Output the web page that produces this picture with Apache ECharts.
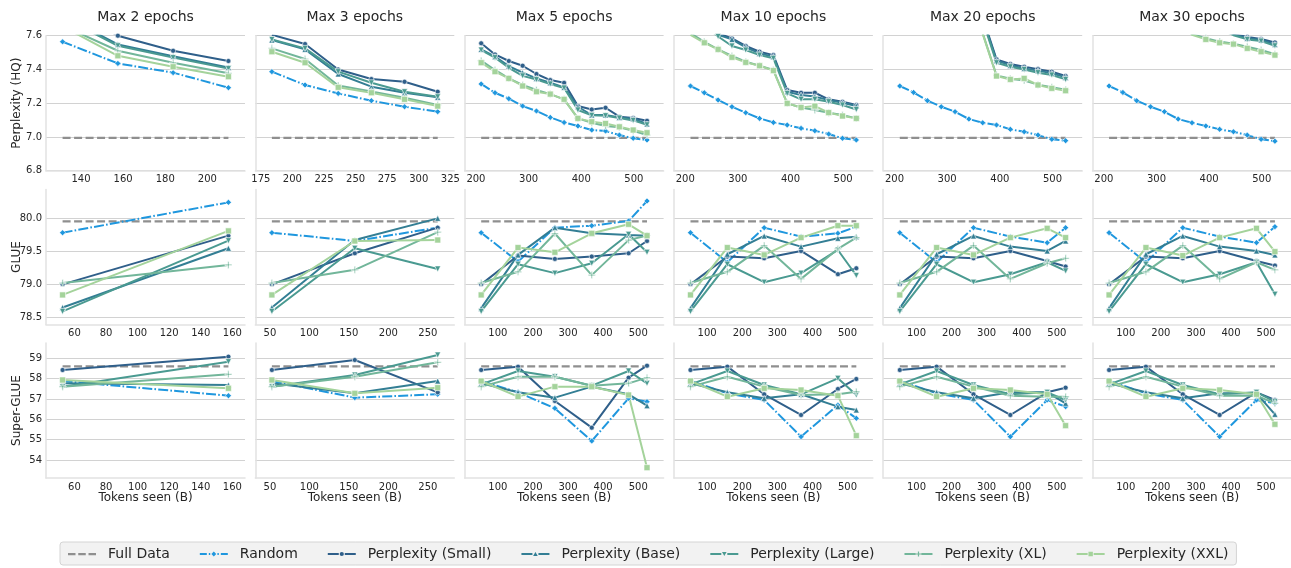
<!DOCTYPE html>
<html><head><meta charset="utf-8">
<script src="https://cdn.jsdelivr.net/npm/echarts@6/dist/echarts.min.js"></script>
<style>html,body{margin:0;padding:0;background:#fff}#c{width:1291px;height:568px}</style>
</head><body><div id="c"></div><script>
// ---------------- DATA ----------------
const titles = ['Max 2 epochs','Max 3 epochs','Max 5 epochs','Max 10 epochs','Max 20 epochs','Max 30 epochs'];
const rowNames = ['Perplexity (HQ)','GLUE','Super-GLUE'];
const xName = 'Tokens seen (B)';
const fullDataName = 'Full Data';
const seriesNames = ['Random','Perplexity (Small)','Perplexity (Base)','Perplexity (Large)','Perplexity (XL)','Perplexity (XXL)'];
const fullDataValues = [6.995, 79.955, 58.6];

const pplX_2 = [131.25,157.5,183.75,210];
const pplX_3 = [183.75,210,236.25,262.5,288.75,315];
const pplX_long = [210,236.25,262.5,288.75,315,341.25,367.5,393.75,420,446.25,472.5,498.75,525];
const evalX_2 = [52.5,157.5];
const evalX_3 = [52.5,157.5,262.5];
const evalX_long = [52.5,157.5,262.5,367.5,472.5,525];

const pplTicks_2 = [140,160,180,200];
const pplTicks_3 = [175,200,225,250,275,300,325];
const pplTicks_long = [200,300,400,500];
const evalTicks_2 = [60,80,100,120,140,160];
const evalTicks_3 = [50,100,150,200,250];
const evalTicks_long = [100,200,300,400,500];

const pplYTicks = [6.8,7.0,7.2,7.4,7.6];
const glueYTicks = [78.5,79.0,79.5,80.0];
const sgYTicks = [54,55,56,57,58,59];
const pplYRange = [6.8, 7.6];
const glueYRange = [78.392, 80.437];
const sgYRange = [53.114, 59.754];

// rows: Random, Small, Base, Large, XL, XXL
const ppl_e2 = [
 [7.564,7.436,7.381,7.292],
 [7.78,7.60,7.511,7.45],
 [7.72,7.548,7.478,7.412],
 [7.71,7.54,7.47,7.405],
 [7.66,7.511,7.44,7.377],
 [7.655,7.481,7.416,7.357]];
const ppl_e3 = [
 [7.387,7.308,7.258,7.215,7.179,7.150],
 [7.605,7.551,7.40,7.343,7.327,7.268],
 [7.574,7.519,7.373,7.298,7.262,7.235],
 [7.578,7.525,7.387,7.321,7.268,7.238],
 [7.525,7.462,7.305,7.27,7.232,7.19],
 [7.505,7.44,7.294,7.262,7.223,7.183]];
const ppl_e5 = [
 [7.314,7.262,7.227,7.183,7.154,7.116,7.086,7.065,7.041,7.035,7.011,6.992,6.982],
 [7.555,7.489,7.45,7.422,7.373,7.337,7.321,7.183,7.163,7.173,7.12,7.112,7.096],
 [7.519,7.476,7.42,7.381,7.347,7.321,7.294,7.179,7.13,7.13,7.116,7.108,7.077],
 [7.515,7.47,7.41,7.362,7.34,7.314,7.29,7.16,7.128,7.126,7.112,7.098,7.072],
 [7.452,7.397,7.347,7.308,7.278,7.254,7.223,7.11,7.084,7.065,7.057,7.037,7.011],
 [7.44,7.387,7.347,7.302,7.268,7.254,7.223,7.11,7.09,7.08,7.06,7.041,7.025]];
const ppl_e10 = [
 [7.302,7.262,7.219,7.179,7.144,7.11,7.086,7.071,7.051,7.037,7.017,6.992,6.982],
 [7.78,7.70,7.615,7.584,7.539,7.505,7.485,7.278,7.262,7.262,7.223,7.209,7.189],
 [7.76,7.68,7.605,7.578,7.531,7.495,7.476,7.268,7.248,7.239,7.219,7.203,7.183],
 [7.74,7.66,7.595,7.539,7.515,7.485,7.466,7.258,7.223,7.223,7.209,7.189,7.163],
 [7.615,7.564,7.519,7.48,7.446,7.422,7.397,7.199,7.175,7.16,7.144,7.13,7.11],
 [7.605,7.558,7.519,7.472,7.442,7.422,7.393,7.199,7.175,7.183,7.144,7.124,7.11]];
const ppl_e20 = [
 [7.302,7.264,7.215,7.179,7.15,7.106,7.084,7.071,7.045,7.031,7.011,6.986,6.978],
 [8.3,8.2,8.1,8.0,7.95,7.88,7.71,7.46,7.432,7.416,7.402,7.387,7.361],
 [8.3,8.2,8.1,8.0,7.94,7.87,7.70,7.452,7.424,7.406,7.393,7.377,7.353],
 [8.3,8.2,8.1,8.0,7.93,7.86,7.69,7.44,7.416,7.4,7.381,7.367,7.341],
 [8.2,8.1,8.0,7.9,7.85,7.78,7.615,7.365,7.345,7.335,7.31,7.295,7.28],
 [8.2,8.1,8.0,7.9,7.85,7.78,7.61,7.361,7.341,7.347,7.308,7.288,7.274]];
const ppl_e30 = [
 [7.302,7.264,7.215,7.179,7.15,7.106,7.084,7.065,7.045,7.031,7.011,6.986,6.975],
 [8.4,8.3,8.2,8.1,8.0,7.9,7.8,7.72,7.66,7.612,7.592,7.58,7.56],
 [8.4,8.3,8.2,8.1,8.0,7.9,7.8,7.71,7.65,7.608,7.585,7.575,7.548],
 [8.4,8.3,8.2,8.1,8.0,7.9,7.79,7.7,7.64,7.603,7.578,7.568,7.54],
 [8.2,8.1,8.0,7.9,7.8,7.7,7.61,7.585,7.565,7.552,7.535,7.515,7.49],
 [8.2,8.1,8.0,7.9,7.8,7.7,7.605,7.578,7.558,7.55,7.525,7.505,7.485]];

const glue_e2 = [
 [79.783,80.242],[79.0,79.738],[78.65,79.547],[78.59,79.662],[79.02,79.295],[78.84,79.81]];
const glue_e3 = [
 [79.783,79.657,79.859],[79.0,79.471,79.859],[78.65,79.672,80.0],
 [78.59,79.547,79.234],[79.02,79.22,79.79],[78.84,79.657,79.672]];
const glue_e5 = [
 [79.783,79.345,79.859,79.889,79.96,80.262],
 [79.0,79.436,79.385,79.421,79.471,79.657],
 [78.64,79.446,79.859,79.773,79.748,79.738],
 [78.59,79.305,79.17,79.32,79.758,79.486],
 [79.02,79.19,79.77,79.14,79.67,79.74],
 [78.84,79.557,79.486,79.773,79.91,79.738]];
const glue_e10 = [
 [79.783,79.335,79.859,79.723,79.773,79.874],
 [79.0,79.421,79.395,79.506,79.154,79.244],
 [78.64,79.456,79.733,79.572,79.698,79.723],
 [78.59,79.305,79.033,79.17,79.521,79.134],
 [79.02,79.19,79.587,79.083,79.537,79.708],
 [78.84,79.557,79.446,79.708,79.889,79.889]];
const glue_e20 = [
 [79.783,79.335,79.859,79.723,79.632,79.859],
 [79.0,79.421,79.395,79.506,79.355,79.27],
 [78.64,79.456,79.733,79.572,79.506,79.657],
 [78.59,79.305,79.033,79.154,79.335,79.204],
 [79.02,79.19,79.587,79.083,79.32,79.395],
 [78.84,79.557,79.446,79.708,79.849,79.708]];
const glue_e30 = [
 [79.783,79.335,79.859,79.723,79.632,79.874],
 [79.0,79.421,79.395,79.506,79.355,79.285],
 [78.64,79.456,79.733,79.572,79.506,79.446],
 [78.59,79.305,79.033,79.154,79.335,78.85],
 [79.02,79.19,79.587,79.083,79.335,79.22],
 [78.84,79.557,79.436,79.708,79.849,79.496]];

const sg_e2 = [
 [57.885,57.164],[58.426,59.082],[57.77,57.689],[57.607,58.836],[57.607,58.213],[57.934,57.525]];
const sg_e3 = [
 [57.885,57.066,57.23],[58.426,58.918,57.328],[57.77,57.279,57.885],
 [57.607,58.18,59.164],[57.607,58.098,58.803],[57.934,57.279,57.557]];
const sg_e5 = [
 [57.885,57.328,56.541,54.934,57.033,56.869],
 [58.426,58.59,56.902,55.59,58.049,58.639],
 [57.77,57.328,57.066,57.607,57.23,56.672],
 [57.72,58.377,58.098,57.656,58.377,57.77],
 [57.607,58.098,58.098,57.656,57.77,58.049],
 [57.885,57.115,57.607,57.607,57.197,53.623]];
const sg_e10 = [
 [57.885,57.279,56.951,55.148,56.705,56.049],
 [58.426,58.59,57.23,56.213,57.492,57.984],
 [57.77,57.328,57.033,57.23,56.623,56.459],
 [57.72,58.377,57.689,57.23,58.016,57.197],
 [57.607,58.098,57.607,57.197,57.23,57.361],
 [57.885,57.115,57.525,57.443,57.164,55.197]];
const sg_e20 = [
 [57.885,57.279,56.951,55.148,56.951,56.623],
 [58.426,58.59,57.23,56.213,57.328,57.557],
 [57.77,57.328,57.033,57.328,57.328,56.787],
 [57.72,58.377,57.689,57.23,57.328,56.951],
 [57.607,58.098,57.607,57.164,57.115,57.115],
 [57.885,57.115,57.525,57.443,57.23,55.689]];
const sg_e30 = [
 [57.885,57.279,56.951,55.148,56.951,56.787],
 [58.426,58.59,57.23,56.213,57.328,56.951],
 [57.77,57.328,57.033,57.279,57.279,56.246],
 [57.72,58.377,57.689,57.23,57.328,56.869],
 [57.607,58.098,57.607,57.164,57.164,56.787],
 [57.885,57.115,57.525,57.443,57.23,55.754]];

// ---------------- STYLE ----------------
const FONT = 'DejaVu Sans';
const TXT = '#262626';
const fullColor = '#8f8f8f';
const colors = ['#1f97de','#2f5f8a','#337e94','#4a9a91','#72b69a','#a4d39b'];
const plusPath = 'path://M3.3,0H4.7V3.3H8V4.7H4.7V8H3.3V4.7H0V3.3H3.3Z';
const symbols = ['diamond','circle','triangle','triangle',plusPath,'rect'];
const symRot = [0,0,0,180,0,0];
const symSize = [6,5,6,6,7,6];

// legend handle icons (28 x 8 box)
const box = 'M0,0L0.01,0L0,0.01Z M28,8L27.99,8L28,7.99Z ';
const solidLine = 'M0,3.05H11V4.95H0Z M17,3.05H28V4.95H17Z ';
const legendIcons = [
  'path://' + box + 'M0,3H7.5V5.2H0Z M10.25,3H17.75V5.2H10.25Z M20.5,3H28V5.2H20.5Z',
  'path://' + box + 'M0,3.1H7V4.9H0Z M9,3.1H10.4V4.9H9Z M14,1.6L16.4,4L14,6.4L11.6,4Z M17.6,3.1H19V4.9H17.6Z M21,3.1H28V4.9H21Z',
  'path://' + box + solidLine + 'M14,1.9A2.1,2.1 0 1 1 14,6.1A2.1,2.1 0 1 1 14,1.9Z',
  'path://' + box + solidLine + 'M11.7,6.1L14,1.9L16.3,6.1Z',
  'path://' + box + solidLine + 'M11.7,1.9L16.3,1.9L14,6.1Z',
  'path://' + box + solidLine + 'M13.4,1.4H14.6V3.4H17V4.6H14.6V6.6H13.4V4.6H11V3.4H13.4Z',
  'path://' + box + solidLine + 'M11.8,1.8H16.2V6.2H11.8Z'
];

const colLeft = [46, 255.3, 464.6, 673.9, 883.2, 1092.5];
const colW = 199;
const rowTop = [35.7, 189.5, 343];
const rowH = 135;

const rowDefs = [
  {xs:[pplX_2,pplX_3,pplX_long,pplX_long,pplX_long,pplX_long],
   vals:[ppl_e2,ppl_e3,ppl_e5,ppl_e10,ppl_e20,ppl_e30],
   xt:[pplTicks_2,pplTicks_3,pplTicks_long,pplTicks_long,pplTicks_long,pplTicks_long],
   yt:pplYTicks, yr:pplYRange, dec:1},
  {xs:[evalX_2,evalX_3,evalX_long,evalX_long,evalX_long,evalX_long],
   vals:[glue_e2,glue_e3,glue_e5,glue_e10,glue_e20,glue_e30],
   xt:[evalTicks_2,evalTicks_3,evalTicks_long,evalTicks_long,evalTicks_long,evalTicks_long],
   yt:glueYTicks, yr:glueYRange, dec:1},
  {xs:[evalX_2,evalX_3,evalX_long,evalX_long,evalX_long,evalX_long],
   vals:[sg_e2,sg_e3,sg_e5,sg_e10,sg_e20,sg_e30],
   xt:[evalTicks_2,evalTicks_3,evalTicks_long,evalTicks_long,evalTicks_long,evalTicks_long],
   yt:sgYTicks, yr:sgYRange, dec:0}
];

const grids=[], xAxes=[], yAxes=[], series=[], graphics=[];
const spine = {show:true, lineStyle:{color:'#e2e2e2', width:1.5}};
rowDefs.forEach((rd, r) => {
  for (let c = 0; c < 6; c++) {
    const k = grids.length;
    grids.push({left:colLeft[c], top:rowTop[r], width:colW, height:rowH, outerBoundsMode:'none'});
    const xs = rd.xs[c];
    const x0 = xs[0], x1 = xs[xs.length-1], pad = 0.1*(x1-x0);
    xAxes.push({type:'value', gridIndex:k, min:x0-pad, max:x1+pad,
      axisLine:spine, axisTick:{show:false, customValues:rd.xt[c]}, splitLine:{show:false},
      axisLabel:{customValues:rd.xt[c], fontSize:10, color:TXT, fontFamily:FONT, margin:4},
      name: r===2 ? xName : '', nameLocation:'middle', nameGap:14, nameMoveOverlap:false,
      nameTextStyle:{fontSize:12, color:TXT, fontFamily:FONT}});
    yAxes.push({type:'value', gridIndex:k, min:rd.yr[0], max:rd.yr[1],
      axisLine:spine, axisTick:{show:false, customValues:rd.yt},
      splitLine:{show:true, lineStyle:{color:'#d2d2d2', width:1}},
      axisLabel:{show:c===0, customValues:rd.yt, fontSize:10, color:TXT, fontFamily:FONT, margin:4,
        formatter: v => Number(v).toFixed(rd.dec)},
      name: c===0 ? rowNames[r] : '', nameLocation:'middle', nameGap:23, nameMoveOverlap:false,
      nameTextStyle:{fontSize:12, color:TXT, fontFamily:FONT}});
    series.push({type:'line', name:fullDataName, xAxisIndex:k, yAxisIndex:k, z:1,
      data:[[x0, fullDataValues[r]],[x1, fullDataValues[r]]], symbol:'none',
      lineStyle:{color:fullColor, width:2.2, type:[8,3.5]}, itemStyle:{color:fullColor}, silent:true});
    rd.vals[c].forEach((vals, s) => {
      series.push({type:'line', name:seriesNames[s], xAxisIndex:k, yAxisIndex:k, z:2,
        data: vals.map((v,i) => [xs[i], v]), clip:true,
        symbol:symbols[s], symbolSize:symSize[s], symbolRotate:symRot[s], showSymbol:true,
        lineStyle:{color:colors[s], width:2, type: s===0 ? [10,2.2,1.6,2.2] : 'solid'},
        itemStyle:{color:colors[s], borderColor:'#ffffff', borderWidth:0.6}, silent:true});
    });
  }
});
for (let c = 0; c < 6; c++) {
  graphics.push({type:'text', x: colLeft[c]+colW/2, y: 17,
    style:{text:titles[c], fill:TXT, font:'14px "DejaVu Sans"', align:'center', verticalAlign:'middle'}});
}

const legendNames = [fullDataName].concat(seriesNames);
const legendColors = [fullColor].concat(colors);
const legendData = legendNames.map((n, i) => ({
  name:n, icon:legendIcons[i],
  itemStyle:{color:legendColors[i], borderWidth:0, opacity:1}
}));

const chart = echarts.init(document.getElementById('c'), null, {renderer:'canvas'});
chart.setOption({
  animation:false,
  backgroundColor:'#ffffff',
  grid:grids, xAxis:xAxes, yAxis:yAxes, series:series, graphic:graphics,
  legend:{data:legendData, left:60, top:542, orient:'horizontal',
    itemWidth:28, itemHeight:8, itemGap:30, padding:[5,8,4,8],
    backgroundColor:'#f2f2f2', borderColor:'#d4d4d4', borderWidth:1, borderRadius:3,
    textStyle:{fontSize:14, color:TXT, fontFamily:FONT, padding:[0,0,0,7]}, selectedMode:false}
});
</script></body></html>
